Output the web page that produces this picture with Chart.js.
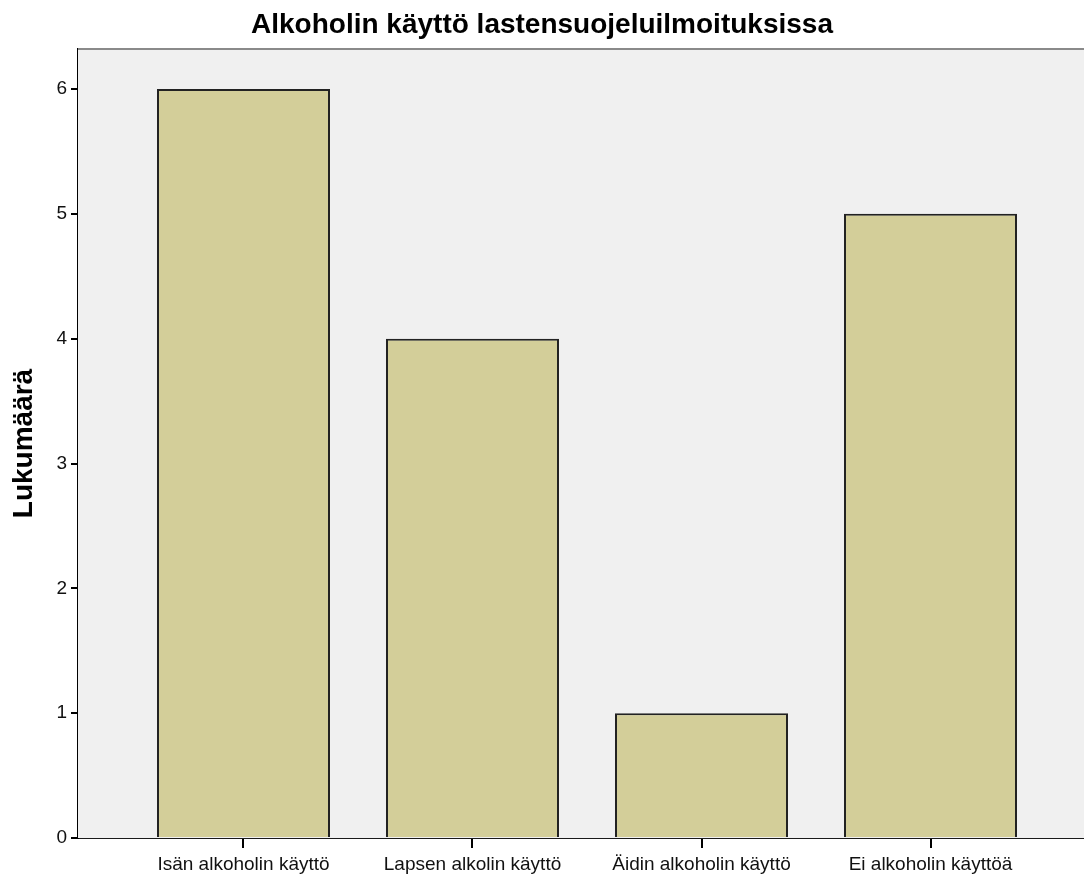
<!DOCTYPE html>
<html>
<head>
<meta charset="utf-8">
<script src="https://cdn.jsdelivr.net/npm/chart.js@4/dist/chart.umd.min.js"></script>
<style>
  html, body { margin: 0; padding: 0; background: #ffffff; }
  canvas { display: block; }
</style>
</head>
<body>
<canvas id="c" width="1084" height="876"></canvas>
<script>
const chartTitle = 'Alkoholin käyttö lastensuojeluilmoituksissa';
const yAxisTitle = 'Lukumäärä';
const categories = ['Isän alkoholin käyttö', 'Lapsen alkolin käyttö', 'Äidin alkoholin käyttö', 'Ei alkoholin käyttöä'];
const counts = [6, 4, 1, 5];
const yTickValues = [0, 1, 2, 3, 4, 5, 6];

const FONT = "'Liberation Sans', Arial, sans-serif";

const frame = {
  id: 'frame',
  beforeDatasetsDraw(chart) {
    const { ctx, chartArea: a } = chart;
    ctx.save();
    ctx.fillStyle = '#f0f0f0';
    ctx.fillRect(a.left, a.top, a.right - a.left, a.bottom - a.top);
    ctx.restore();
  },
  afterDraw(chart) {
    const { ctx, chartArea: a } = chart;
    ctx.save();
    ctx.strokeStyle = '#8a8a8a';
    ctx.lineWidth = 2;
    ctx.beginPath();
    ctx.moveTo(a.left, a.top);
    ctx.lineTo(a.right, a.top);
    ctx.stroke();
    ctx.restore();
  }
};

new Chart(document.getElementById('c'), {
  type: 'bar',
  data: {
    datasets: [{
      data: counts.map((v, i) => ({ x: i, y: v })),
      backgroundColor: '#d3ce99',
      borderColor: '#222222',
      borderWidth: 2,
      barPercentage: 0.7555,
      categoryPercentage: 1.0
    }]
  },
  plugins: [frame],
  options: {
    responsive: false,
    animation: false,
    devicePixelRatio: 1,
    layout: { padding: 0 },
    plugins: {
      legend: { display: false },
      tooltip: { enabled: false },
      title: {
        display: true,
        text: chartTitle,
        color: '#000',
        font: { family: FONT, size: 28, weight: 'bold' },
        padding: { top: 8, bottom: 7.4 }
      }
    },
    scales: {
      x: {
        type: 'linear',
        min: -0.7227,
        max: 3.6703,
        offset: false,
        afterBuildTicks(scale) {
          scale.ticks = categories.map((_, i) => ({ value: i }));
        },
        afterFit(scale) { scale.height = 38; },
        ticks: {
          callback: (v) => categories[v] ?? '',
          color: '#111',
          font: { family: FONT, size: 19 },
          padding: 5,
          maxRotation: 0,
          autoSkip: false
        },
        grid: { offset: false, drawOnChartArea: false, drawTicks: true, tickLength: 10, color: '#000', lineWidth: 2 },
        border: { display: true, color: '#1a1a1a', width: 2 }
      },
      y: {
        min: 0,
        max: 6.3205,
        afterBuildTicks(scale) {
          scale.ticks = yTickValues.map(v => ({ value: v }));
        },
        afterFit(scale) { scale.width = 78; },
        ticks: {
          color: '#111',
          font: { family: FONT, size: 19 },
          padding: 4
        },
        grid: { drawOnChartArea: false, drawTicks: true, tickLength: 7, color: '#000', lineWidth: 2 },
        border: { display: true, color: '#000', width: 2 },
        title: {
          display: true,
          text: yAxisTitle,
          color: '#000',
          font: { family: FONT, size: 28, weight: 'bold' },
          padding: { top: 7, bottom: 0 }
        }
      }
    }
  }
});
</script>
</body>
</html>
